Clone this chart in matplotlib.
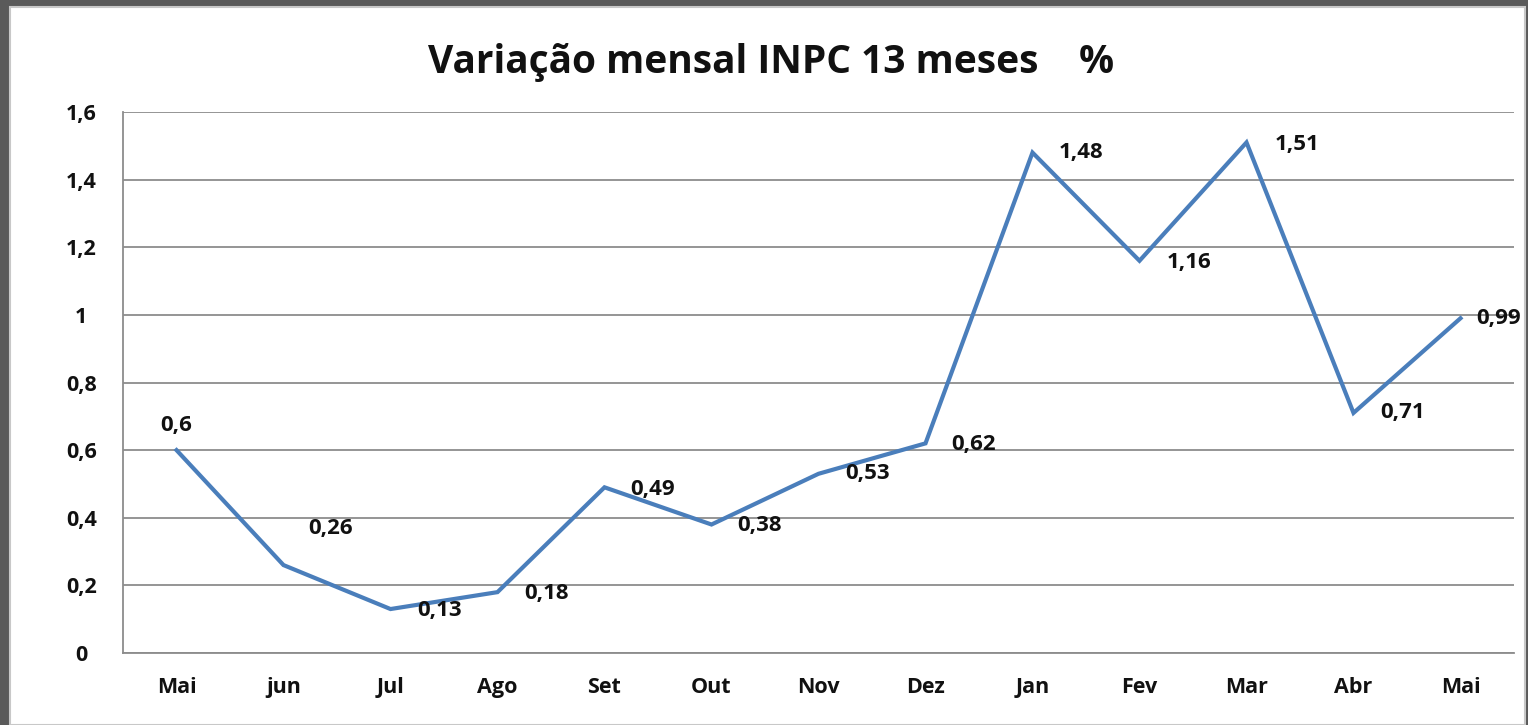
import matplotlib.pyplot as plt
from matplotlib.patches import Rectangle
from matplotlib.ticker import FuncFormatter

# dados INPC
meses = ['Mai', 'jun', 'Jul', 'Ago', 'Set', 'Out', 'Nov', 'Dez', 'Jan', 'Fev', 'Mar', 'Abr', 'Mai']
valores = [0.6, 0.26, 0.13, 0.18, 0.49, 0.38, 0.53, 0.62, 1.48, 1.16, 1.51, 0.71, 0.99]
rotulos = ['0,6', '0,26', '0,13', '0,18', '0,49', '0,38', '0,53', '0,62', '1,48', '1,16', '1,51', '0,71', '0,99']
# deslocamento dos rotulos (pixels)
desloc = [(0, 25), (47, 37), (49, -1), (49, -1), (48, -2), (48, -1), (49, 0),
          (48, -1), (49, 0), (50, -2), (51, -2), (49, 0), (38, 0)]

W, H = 1528, 725
fig = plt.figure(figsize=(W / 100, H / 100), dpi=100, facecolor='#5a5a5a')
fig.patches.append(Rectangle((10 / W, 0), 1515 / W, 718 / H, transform=fig.transFigure,
                             facecolor='white', edgecolor='#c8c8c8', linewidth=1.5, zorder=-10))

ax = fig.add_axes([123 / W, (H - 653) / H, (1514 - 123) / W, (653 - 112) / H])
ax.set_facecolor('none')
x = list(range(len(meses)))
ax.plot(x, valores, color='#4a7ebb', linewidth=3, solid_joinstyle='miter', zorder=3)

for i in x:
    ax.annotate(rotulos[i], (i, valores[i]), xytext=desloc[i], textcoords='offset pixels',
                ha='center', va='center', fontsize=16, fontweight='bold',
                family='Open Sans', color='#111111', annotation_clip=False, zorder=4)

ax.set_xlim(-0.5, 12.5)
ax.set_ylim(0, 1.6)
ax.set_yticks([0, 0.2, 0.4, 0.6, 0.8, 1.0, 1.2, 1.4, 1.6])
ax.yaxis.set_major_formatter(FuncFormatter(lambda v, p: ('%g' % round(v, 1)).replace('.', ',')))
ax.set_xticks(x)
ax.set_xticklabels(meses)
ax.grid(axis='y', color='#8c8c8c', linewidth=1.3)
ax.set_axisbelow(True)
for s in ['top', 'right']:
    ax.spines[s].set_visible(False)
for s in ['left', 'bottom']:
    ax.spines[s].set_color('#8c8c8c')
    ax.spines[s].set_linewidth(1.3)
ax.tick_params(length=0, labelsize=15.5, labelcolor='#111111')
for t in ax.get_xticklabels() + ax.get_yticklabels():
    t.set_family('Open Sans')
    t.set_fontweight('bold')
ax.tick_params(axis='x', pad=17)
ax.tick_params(axis='y', pad=30)
for t in ax.get_yticklabels():
    t.set_horizontalalignment('center')

fig.text(771 / W, 1 - 63 / H, 'Variação mensal INPC 13 meses    %', ha='center', va='center',
         fontsize=28, fontweight='bold', family='Open Sans', color='#111111')

fig.savefig('out.png', dpi=100, facecolor=fig.get_facecolor())
